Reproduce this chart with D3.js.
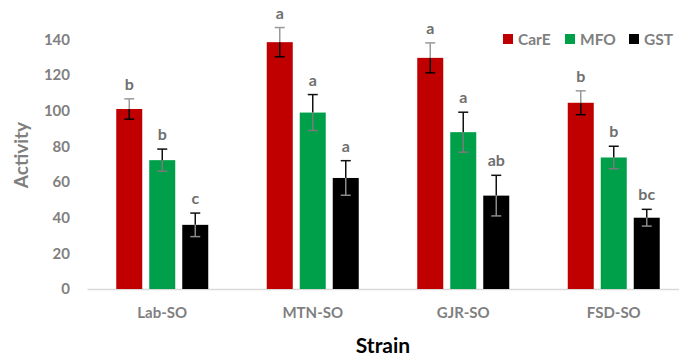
<!DOCTYPE html>
<html>
<head>
<meta charset="utf-8">
<script src="https://cdn.jsdelivr.net/npm/d3@7"></script>
<style>
  body { margin: 0; background: #fff; }
  svg { display: block; }
</style>
</head>
<body>
<svg id="chart" width="679" height="359"></svg>
<script>
// Chart data
const strains = ['Lab-SO', 'MTN-SO', 'GJR-SO', 'FSD-SO'];
const seriesNames = ['CarE', 'MFO', 'GST'];
const carE = [101, 138.5, 129.7, 104.5];
const mfo = [72.3, 99, 88, 73.8];
const gst = [36, 62.3, 52.4, 40];
const carEErr = [5.7, 8.2, 8.4, 6.7];
const mfoErr = [6.2, 10.1, 11.2, 6.3];
const gstErr = [6.6, 9.7, 11.4, 4.7];
const carELetters = ['b', 'a', 'a', 'b'];
const mfoLetters = ['b', 'a', 'a', 'b'];
const gstLetters = ['c', 'a', 'ab', 'bc'];
const yTicks = [0, 20, 40, 60, 80, 100, 120, 140];

const STYLE = {
  font: 'Lato, "Open Sans", sans-serif',
  tickColor: '#7f7f7f',
  letterColor: '#6f6f6f',
  axisColor: '#d9d9d9',
  fills: { CarE: '#c00000', MFO: '#00a04a', GST: '#000000' },
  errUp: { CarE: '#9a9a9a', MFO: '#111111', GST: '#111111' },
  errDown: { CarE: '#000000', MFO: '#7a7a7a', GST: '#8a8a8a' }
};

const seriesValues = { CarE: carE, MFO: mfo, GST: gst };
const seriesErrors = { CarE: carEErr, MFO: mfoErr, GST: gstErr };
const seriesLetters = { CarE: carELetters, MFO: mfoLetters, GST: gstLetters };

const svg = d3.select('#chart');
const plot = { left: 87, right: 689, top: 39.5, bottom: 289 };
const groupWidth = 92;

const x0 = d3.scaleBand().domain(strains).range([plot.left, plot.right]).padding(0);
const x1 = d3.scaleBand().domain(seriesNames).range([0, groupWidth]).paddingInner(0.212);
const y = d3.scaleLinear().domain([0, 140]).range([plot.bottom, plot.top]);

const groupOffset = (x0.bandwidth() - groupWidth) / 2;

// y axis labels (no line)
const yAxis = svg.append('g')
  .attr('transform', `translate(${plot.left - 10},0)`)
  .call(d3.axisLeft(y).tickValues(yTicks).tickSize(0).tickPadding(7));
yAxis.select('.domain').remove();
yAxis.selectAll('text')
  .attr('fill', STYLE.tickColor)
  .attr('font-family', STYLE.font)
  .attr('font-weight', 'bold')
  .attr('font-size', '15px');

// x axis baseline + labels
const xAxis = svg.append('g')
  .attr('transform', `translate(0,${plot.bottom})`)
  .call(d3.axisBottom(x0).tickSize(0).tickPadding(18));
xAxis.select('.domain').attr('stroke', STYLE.axisColor).attr('stroke-width', 1.5);
xAxis.selectAll('text')
  .attr('fill', STYLE.tickColor)
  .attr('font-family', STYLE.font)
  .attr('font-weight', 'bold')
  .attr('font-size', '15px');

// flatten data for bars
const rows = [];
strains.forEach((s, i) => {
  seriesNames.forEach(name => {
    rows.push({
      strain: s, series: name,
      value: seriesValues[name][i],
      err: seriesErrors[name][i],
      letter: seriesLetters[name][i]
    });
  });
});

const barX = d => x0(d.strain) + groupOffset + x1(d.series);
const barW = x1.bandwidth();

svg.append('g').selectAll('rect')
  .data(rows)
  .join('rect')
  .attr('x', barX)
  .attr('y', d => y(d.value))
  .attr('width', barW)
  .attr('height', d => y(0) - y(d.value))
  .attr('fill', d => STYLE.fills[d.series]);

// error bars: upper and lower halves drawn separately
const errG = svg.append('g');
const capHalf = 5;
rows.forEach(d => {
  const cx = barX(d) + barW / 2;
  const yv = y(d.value), yu = y(d.value + d.err), yd = y(d.value - d.err);
  const up = STYLE.errUp[d.series], down = STYLE.errDown[d.series];
  errG.append('line').attr('x1', cx).attr('x2', cx).attr('y1', yv).attr('y2', yu)
    .attr('stroke', up).attr('stroke-width', 1.5);
  errG.append('line').attr('x1', cx - capHalf).attr('x2', cx + capHalf).attr('y1', yu).attr('y2', yu)
    .attr('stroke', up).attr('stroke-width', 1.5);
  errG.append('line').attr('x1', cx).attr('x2', cx).attr('y1', yv).attr('y2', yd)
    .attr('stroke', down).attr('stroke-width', 1.5);
  errG.append('line').attr('x1', cx - capHalf).attr('x2', cx + capHalf).attr('y1', yd).attr('y2', yd)
    .attr('stroke', down).attr('stroke-width', 1.5);
});

// significance letters
svg.append('g').selectAll('text')
  .data(rows)
  .join('text')
  .attr('x', d => barX(d) + barW / 2)
  .attr('y', d => y(d.value + d.err) - 9)
  .attr('text-anchor', 'middle')
  .attr('fill', STYLE.letterColor)
  .attr('font-family', STYLE.font)
  .attr('font-weight', 'bold')
  .attr('font-size', '16px')
  .text(d => d.letter);

// axis titles
svg.append('text')
  .attr('transform', 'translate(28,155) rotate(-90)')
  .attr('text-anchor', 'middle')
  .attr('fill', STYLE.tickColor)
  .attr('font-family', STYLE.font)
  .attr('font-weight', 'bold')
  .attr('font-size', '19px')
  .text('Activity');

svg.append('text')
  .attr('x', 383)
  .attr('y', 353)
  .attr('text-anchor', 'middle')
  .attr('fill', '#000')
  .attr('font-family', STYLE.font)
  .attr('font-weight', 'bold')
  .attr('font-size', '21px')
  .text('Strain');

// legend
const legendX = [503, 565, 629];
const legend = svg.append('g').selectAll('g')
  .data(seriesNames)
  .join('g')
  .attr('transform', (d, i) => `translate(${legendX[i]},34)`);
legend.append('rect')
  .attr('width', 10).attr('height', 10)
  .attr('fill', d => STYLE.fills[d]);
legend.append('text')
  .attr('x', 15).attr('y', 10.5)
  .attr('fill', STYLE.tickColor)
  .attr('font-family', STYLE.font)
  .attr('font-weight', 'bold')
  .attr('font-size', '15.5px')
  .text(d => d);
</script>
</body>
</html>
